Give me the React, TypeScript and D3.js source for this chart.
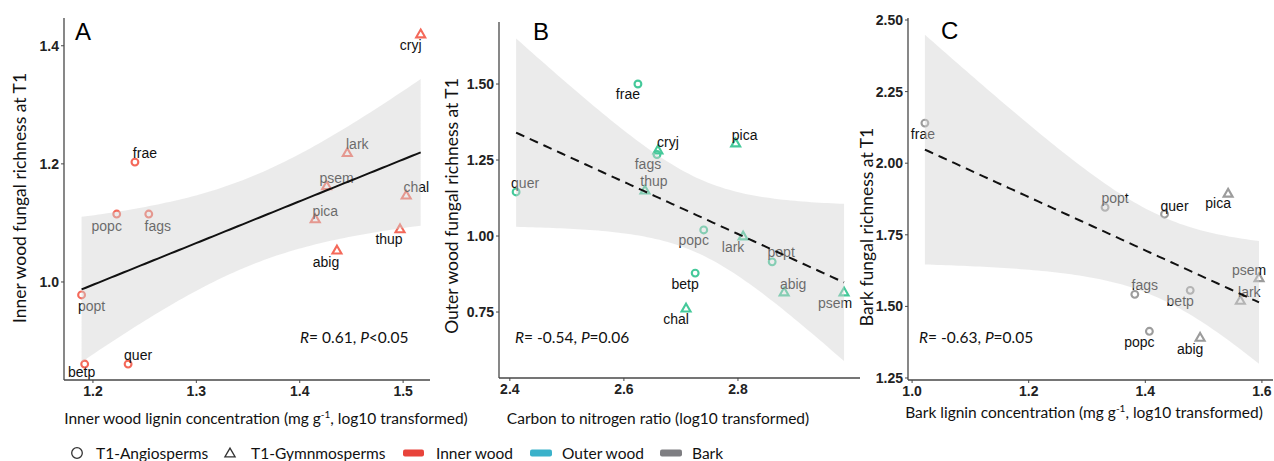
import React from "react";
import * as d3 from "d3";

// ---------------- DATA ----------------
// Panel A: inner wood
const speciesA = ["cryj", "frae", "lark", "psem", "chal", "pica", "thup", "abig", "popc", "fags", "popt", "betp", "quer"];
const groupA = ["G", "A", "G", "G", "G", "G", "G", "G", "A", "A", "A", "A", "A"];
const innerLignin = [1.517, 1.2406, 1.446, 1.426, 1.503, 1.415, 1.497, 1.436, 1.223, 1.254, 1.189, 1.192, 1.234];
const innerRichness = [1.42, 1.203, 1.219, 1.163, 1.147, 1.107, 1.09, 1.054, 1.115, 1.115, 0.978, 0.861, 0.861];

// Panel B: outer wood
const speciesB = ["frae", "cryj", "fags", "pica", "thup", "quer", "popc", "lark", "popt", "betp", "abig", "chal", "psem"];
const groupB = ["A", "G", "A", "G", "G", "A", "A", "G", "A", "A", "G", "G", "G"];
const cnRatio = [2.6246, 2.6596, 2.658, 2.796, 2.637, 2.411, 2.74, 2.809, 2.86, 2.725, 2.881, 2.709, 2.986];
const outerRichness = [1.5, 1.283, 1.268, 1.306, 1.151, 1.145, 1.02, 1.0, 0.915, 0.878, 0.816, 0.763, 0.816];

// Panel C: bark
const speciesC = ["frae", "popt", "quer", "pica", "psem", "lark", "fags", "betp", "popc", "abig"];
const groupC = ["A", "A", "A", "G", "G", "G", "A", "A", "A", "G"];
const barkLignin = [1.022, 1.331, 1.433, 1.542, 1.595, 1.563, 1.382, 1.477, 1.407, 1.494];
const barkRichness = [2.14, 1.846, 1.822, 1.895, 1.6, 1.521, 1.542, 1.556, 1.413, 1.392];

// Tick labels
const xTicksA = [1.2, 1.3, 1.4, 1.5];
const yTicksA = [1.0, 1.2, 1.4];
const xTicksB = [2.4, 2.6, 2.8];
const yTicksB = [0.75, 1.0, 1.25, 1.5];
const xTicksC = [1.0, 1.2, 1.4, 1.6];
const yTicksC = [1.25, 1.5, 1.75, 2.0, 2.25, 2.5];

const legendItems = ["T1-Angiosperms", "T1-Gymnmosperms", "Inner wood", "Outer wood", "Bark"];

// Student t 97.5% quantiles for the df used (n - 2)
const T_975: Record<number, number> = { 8: 2.306, 11: 2.201 };

// ---------------- LAYOUT (label nudges in px) ----------------
const OFF_A: Record<string, [number, number]> = {
  cryj: [-10, 11], frae: [10, -9], lark: [10, -9], psem: [10, -8], chal: [10, -8], pica: [10, -8],
  thup: [-11, 10], abig: [-11, 12], popc: [-10, 12], fags: [9, 12], popt: [10, 11], betp: [-3, 8], quer: [10, -9],
};
const OFF_B: Record<string, [number, number]> = {
  frae: [-10, 10], cryj: [10, -8], fags: [-9, 9], pica: [9, -8], thup: [9, -9], quer: [9, -9],
  popc: [-10, 10], lark: [-10, 11], popt: [9, -10], betp: [-10, 11], abig: [9, -8], chal: [-10, 11], psem: [-9, 11],
};
const OFF_C: Record<string, [number, number]> = {
  frae: [-2, 11], popt: [10, -9], quer: [10, -8], pica: [-10, 10], psem: [-10, -8], lark: [9, -8],
  fags: [10, -9], betp: [-10, 11], popc: [-10, 11], abig: [-10, 12],
};

const TITLE_FONT = "Lato, 'Open Sans', sans-serif";
const TICK_FONT = "'Liberation Sans Narrow', 'Arial Narrow', 'Liberation Sans', Arial, sans-serif";
const LABEL_FONT = "'Liberation Sans', Arial, sans-serif";

function lmBand(xs: number[], ys: number[]) {
  const n = xs.length;
  const mx = d3.mean(xs) as number;
  const my = d3.mean(ys) as number;
  const sxx = d3.sum(xs, (v) => (v - mx) ** 2);
  const sxy = d3.sum(xs.map((v, i) => (v - mx) * (ys[i] - my)));
  const b = sxy / sxx;
  const a = my - b * mx;
  const sse = d3.sum(xs.map((v, i) => (ys[i] - a - b * v) ** 2));
  const s = Math.sqrt(sse / (n - 2));
  const t = T_975[n - 2];
  const [x0, x1] = d3.extent(xs) as [number, number];
  return d3.range(0, 81).map((i) => {
    const xv = x0 + ((x1 - x0) * i) / 80;
    const fit = a + b * xv;
    const se = s * Math.sqrt(1 / n + (xv - mx) ** 2 / sxx);
    return { x: xv, fit, lo: fit - t * se, hi: fit + t * se };
  });
}

type Cfg = {
  letter: string;
  species: string[];
  groups: string[];
  xs: number[];
  ys: number[];
  color: string;
  xDomain: [number, number];
  yDomain: [number, number];
  xRange: [number, number];
  yRange: [number, number];
  xTicks: number[];
  yTicks: number[];
  xFmt: string;
  yFmt: string;
  dashed: boolean;
  offsets: Record<string, [number, number]>;
  letterPos: [number, number];
  stat: [string, string];
  statPos: [number, number];
  yTitle: string;
  yTitlePos: [number, number];
  xTitle: [string, string];
  xTitlePos: [number, number];
};

const panels: Cfg[] = [
  {
    letter: "A", species: speciesA, groups: groupA, xs: innerLignin, ys: innerRichness, color: "#F4695A",
    xDomain: [1.172, 1.526], yDomain: [0.834, 1.447], xRange: [64, 430], yRange: [380, 18],
    xTicks: xTicksA, yTicks: yTicksA, xFmt: ".1f", yFmt: ".1f", dashed: false, offsets: OFF_A,
    letterPos: [75, 40], stat: [" 0.61, ", "<0.05"], statPos: [300, 343],
    yTitle: "Inner wood fungal richness at T1", yTitlePos: [20, 198],
    xTitle: ["Inner wood lignin concentration (mg g", ", log10 transformed)"], xTitlePos: [266, 418],
  },
  {
    letter: "B", species: speciesB, groups: groupB, xs: cnRatio, ys: outerRichness, color: "#45C99A",
    xDomain: [2.381, 3.014], yDomain: [0.533, 1.704], xRange: [499, 860], yRange: [378, 22],
    xTicks: xTicksB, yTicks: yTicksB, xFmt: ".1f", yFmt: ".2f", dashed: true, offsets: OFF_B,
    letterPos: [533, 40], stat: [" -0.54, ", "=0.06"], statPos: [515, 343],
    yTitle: "Outer wood fungal richness at T1", yTitlePos: [452, 206],
    xTitle: ["Carbon to nitrogen ratio (log10 transformed)", ""], xTitlePos: [658, 418],
  },
  {
    letter: "C", species: speciesC, groups: groupC, xs: barkLignin, ys: barkRichness, color: "#9C9C9C",
    xDomain: [0.993, 1.619], yDomain: [1.243, 2.507], xRange: [908, 1273], yRange: [380, 18],
    xTicks: xTicksC, yTicks: yTicksC, xFmt: ".1f", yFmt: ".2f", dashed: true, offsets: OFF_C,
    letterPos: [941, 39], stat: [" -0.63, ", "=0.05"], statPos: [919, 343],
    yTitle: "Bark fungal richness at T1", yTitlePos: [867, 227],
    xTitle: ["Bark lignin concentration (mg g", ", log10 transformed)"], xTitlePos: [1084, 412],
  },
];

const AXIS_COL = "#474747";

function Panel({ cfg }: { cfg: Cfg }) {
  const x = d3.scaleLinear().domain(cfg.xDomain).range(cfg.xRange);
  const y = d3.scaleLinear().domain(cfg.yDomain).range(cfg.yRange);
  const band = lmBand(cfg.xs, cfg.ys);
  const area = d3
    .area<{ x: number; lo: number; hi: number }>()
    .x((d) => x(d.x))
    .y0((d) => y(d.lo))
    .y1((d) => y(d.hi));
  const line = d3
    .line<{ x: number; fit: number }>()
    .x((d) => x(d.x))
    .y((d) => y(d.fit));
  const tri = d3.symbol().type(d3.symbolTriangle2).size(58)() as string;
  const [x0, x1] = cfg.xRange;
  const [yb, yt] = cfg.yRange;
  const fx = d3.format(cfg.xFmt);
  const fy = d3.format(cfg.yFmt);
  return (
    <g>
      {/* points */}
      {cfg.species.map((sp, i) => {
        const px = x(cfg.xs[i]);
        const py = y(cfg.ys[i]);
        return cfg.groups[i] === "A" ? (
          <circle key={"p" + sp} cx={px} cy={py} r={3.4} fill="none" stroke={cfg.color} strokeWidth={2.1} />
        ) : (
          <path key={"p" + sp} d={tri} transform={`translate(${px},${py + 0.8})`} fill="none" stroke={cfg.color} strokeWidth={2.1} />
        );
      })}
      {/* labels */}
      {cfg.species.map((sp, i) => {
        const o = cfg.offsets[sp] || [0, 0];
        return (
          <text key={"l" + sp} x={x(cfg.xs[i]) + o[0]} y={y(cfg.ys[i]) + o[1]} dy="0.36em" textAnchor="middle"
            fontFamily={LABEL_FONT} fontSize={14} fill="#111">
            {sp}
          </text>
        );
      })}
      {/* confidence ribbon drawn over points as in ggplot */}
      <path d={area(band) as string} fill="#d2d2d2" fillOpacity={0.45} stroke="none" />
      <path d={line(band) as string} fill="none" stroke="#111" strokeWidth={2}
        strokeDasharray={cfg.dashed ? "9,6" : undefined} />
      {/* axes */}
      <line x1={x0} x2={x0} y1={yt} y2={yb} stroke={AXIS_COL} strokeWidth={1.3} />
      <line x1={x0} x2={x1} y1={yb} y2={yb} stroke={AXIS_COL} strokeWidth={1.3} />
      {cfg.yTicks.map((t) => (
        <g key={"yt" + t}>
          <line x1={x0 - 3} x2={x0} y1={y(t)} y2={y(t)} stroke={AXIS_COL} strokeWidth={1} />
          <text x={x0 - 5} y={y(t)} dy="0.36em" textAnchor="end" fontFamily={TICK_FONT} fontWeight="bold"
            fontSize={14} fill="#222">
            {fy(t)}
          </text>
        </g>
      ))}
      {cfg.xTicks.map((t) => (
        <g key={"xt" + t}>
          <line x1={x(t)} x2={x(t)} y1={yb} y2={yb + 3} stroke={AXIS_COL} strokeWidth={1} />
          <text x={x(t)} y={yb + 11} dy="0.36em" textAnchor="middle" fontFamily={TICK_FONT} fontWeight="bold"
            fontSize={14} fill="#222">
            {fx(t)}
          </text>
        </g>
      ))}
      {/* panel letter */}
      <text x={cfg.letterPos[0]} y={cfg.letterPos[1]} fontFamily={LABEL_FONT} fontSize={24} fill="#000">
        {cfg.letter}
      </text>
      {/* statistics */}
      <text x={cfg.statPos[0]} y={cfg.statPos[1]} fontFamily={TITLE_FONT} fontSize={15.5} fill="#111">
        <tspan fontStyle="italic">R</tspan>={cfg.stat[0]}
        <tspan fontStyle="italic">P</tspan>{cfg.stat[1]}
      </text>
      {/* titles */}
      <text transform={`translate(${cfg.yTitlePos[0]},${cfg.yTitlePos[1]}) rotate(-90)`} textAnchor="middle"
        dy="0.36em" fontFamily={TITLE_FONT} fontSize={17.5} fill="#111">
        {cfg.yTitle}
      </text>
      <text x={cfg.xTitlePos[0]} y={cfg.xTitlePos[1]} dy="0.36em" textAnchor="middle" fontFamily={TITLE_FONT}
        fontSize={15.5} fill="#111">
        {cfg.xTitle[0]}
        {cfg.xTitle[1] ? (
          <>
            <tspan dy="-6" fontSize={10}>-1</tspan>
            <tspan dy="6">{cfg.xTitle[1]}</tspan>
          </>
        ) : null}
      </text>
    </g>
  );
}

function Legend() {
  const tri = d3.symbol().type(d3.symbolTriangle2).size(75)() as string;
  const cy = 453;
  const fs = 15.5;
  return (
    <g fontFamily={TITLE_FONT} fontSize={fs} fill="#111">
      <circle cx={77} cy={cy} r={5.3} fill="none" stroke="#333" strokeWidth={1.3} />
      <text x={96} y={cy} dy="0.36em">{legendItems[0]}</text>
      <path d={tri} transform={`translate(230,${cy + 1})`} fill="none" stroke="#333" strokeWidth={1.3} />
      <text x={251} y={cy} dy="0.36em">{legendItems[1]}</text>
      <rect x={403} y={cy - 3.5} width={21} height={7} rx={2} fill="#E8433B" />
      <text x={436} y={cy} dy="0.36em">{legendItems[2]}</text>
      <rect x={530} y={cy - 3.5} width={22} height={7} rx={2} fill="#3BB2CA" />
      <text x={562} y={cy} dy="0.36em">{legendItems[3]}</text>
      <rect x={660} y={cy - 3.5} width={22} height={7} rx={2} fill="#7E7E82" />
      <text x={692} y={cy} dy="0.36em">{legendItems[4]}</text>
    </g>
  );
}

export default function App() {
  return (
    <svg width={1274} height={461} viewBox="0 0 1274 461"
      style={{ position: "absolute", left: 0, top: 0, background: "#fff" }}>
      <rect x={0} y={0} width={1274} height={461} fill="#fff" />
      {panels.map((p) => (
        <Panel key={p.letter} cfg={p} />
      ))}
      <Legend />
    </svg>
  );
}
